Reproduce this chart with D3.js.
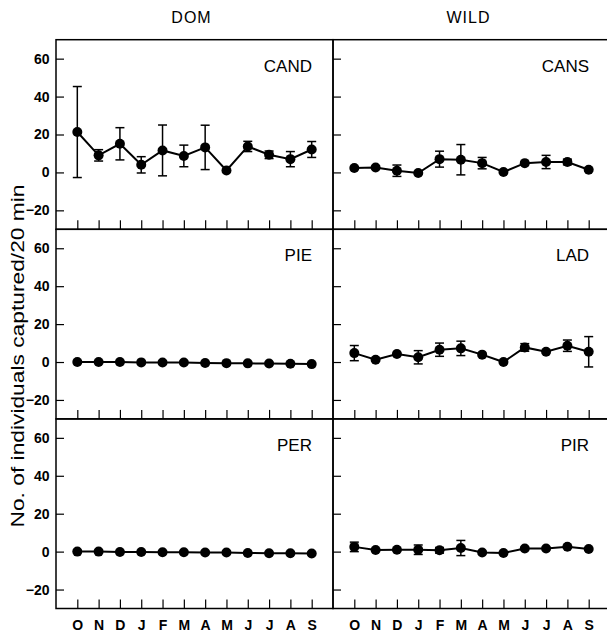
<!DOCTYPE html>
<html>
<head>
<meta charset="utf-8">
<script src="https://cdn.jsdelivr.net/npm/d3@7"></script>
<style>
body { margin: 0; background: #fff; }
svg { font-family: "Liberation Sans", Arial, sans-serif; }
</style>
</head>
<body>
<svg id="chart"></svg>
<script>
// ---------------- data ----------------
let months = ['O','N','D','J','F','M','A','M','J','J','A','S'];
let yTicks = [-20, 0, 20, 40, 60];
let columns = ['DOM', 'WILD'];

let candMean = [21.3, 9, 15.1, 4, 11.6, 8.7, 13.2, 1, 13.7, 9.3, 7, 12.1];
let candErr  = [24, 3, 8.5, 4.3, 13.4, 5.7, 11.7, 0, 2.7, 2, 4, 4.2];

let cansMean = [2.3, 2.6, 0.9, -0.3, 7, 6.7, 4.9, 0.2, 4.9, 5.5, 5.5, 1.4];
let cansErr  = [0, 0, 3, 0, 4.2, 8, 3, 0, 0, 3.5, 1.5, 0];

let pieMean  = [0, 0, 0, -0.2, -0.3, -0.3, -0.5, -0.6, -0.7, -0.8, -0.9, -1.1];
let pieErr   = [0, 0, 0, 0, 0, 0, 0, 0, 0, 0, 0, 0];

let ladMean  = [4.7, 1.2, 4.2, 2.5, 6.5, 7.2, 3.9, 0, 7.7, 5.4, 8.6, 5.4];
let ladErr   = [4, 0, 0, 3.5, 3.5, 3.8, 0, 0, 2, 0, 3, 8];

let perMean  = [0, 0, -0.2, -0.2, -0.3, -0.3, -0.5, -0.5, -0.7, -0.9, -0.9, -1];
let perErr   = [0, 0, 0, 0, 0, 0, 0, 0, 0, 0, 0, 0];

let pirMean  = [2.5, 0.9, 1, 1, 0.7, 1.9, -0.5, -0.7, 1.6, 1.6, 2.6, 1.4];
let pirErr   = [2.5, 0, 0, 2.5, 1.5, 4, 0, 0, 0, 0, 0, 0];

let panels = [
    { name: 'CAND', mean: candMean, err: candErr, col: 0, row: 0 },
    { name: 'CANS', mean: cansMean, err: cansErr, col: 1, row: 0 },
    { name: 'PIE',  mean: pieMean,  err: pieErr,  col: 0, row: 1 },
    { name: 'LAD',  mean: ladMean,  err: ladErr,  col: 1, row: 1 },
    { name: 'PER',  mean: perMean,  err: perErr,  col: 0, row: 2 },
    { name: 'PIR',  mean: pirMean,  err: pirErr,  col: 1, row: 2 }
];

// ---------------- layout ----------------
let svgWidth = 607;
let svgHeight = 636;
let marginLeft = 56;
let marginTop = 39.7;
let panelW = 277;
let panelH = 189.6;

let svg = d3.select('#chart')
    .attr('width', svgWidth)
    .attr('height', svgHeight);

let xScale = d3.scalePoint()
    .domain(d3.range(months.length))
    .range([0, panelW])
    .padding(1);

let yScale = d3.scaleLinear()
    .domain([-30, 70])
    .range([panelH, 0]);

// column titles
svg.selectAll('.col-title')
    .data(columns)
    .enter()
    .append('text')
    .attr('class', 'col-title')
    .attr('x', function(d, i) { return marginLeft + panelW * i + panelW / 2 - 3; })
    .attr('y', 23)
    .attr('text-anchor', 'middle')
    .style('font-size', '16px')
    .style('letter-spacing', '1px')
    .text(function(d) { return d; });

// y axis label
svg.append('text')
    .attr('transform', 'translate(24,356) rotate(-90)')
    .attr('text-anchor', 'middle')
    .attr('textLength', 343)
    .attr('lengthAdjust', 'spacingAndGlyphs')
    .style('font-size', '18px')
    .text('No. of individuals captured/20 min');

let line = d3.line()
    .x(function(d, i) { return xScale(i); })
    .y(function(d) { return yScale(d); });

panels.forEach(function(p) {
    let g = svg.append('g')
        .attr('transform', 'translate(' + (marginLeft + p.col * panelW) + ',' + (marginTop + p.row * panelH) + ')');

    // frame
    g.append('rect')
        .attr('width', panelW)
        .attr('height', panelH)
        .attr('fill', 'none')
        .attr('stroke', '#000')
        .attr('stroke-width', 1.5);

    // y axis (ticks point inward)
    let yAxis = d3.axisLeft(yScale)
        .tickValues(yTicks)
        .tickSizeInner(-8)
        .tickSizeOuter(0)
        .tickPadding(6.5)
        .tickFormat(p.col === 0 ? d3.format('d') : function() { return ''; });

    let ya = g.append('g').call(yAxis);
    ya.select('.domain').remove();
    ya.selectAll('line').attr('stroke-width', 1.2);
    ya.selectAll('text')
        .style('font-size', '14px')
        .style('font-weight', 'bold')
        .style('font-family', '"Liberation Sans", Arial, sans-serif')
        .attr('fill', '#000');

    // x axis (ticks point up)
    let xAxis = d3.axisBottom(xScale)
        .tickSizeInner(-9)
        .tickSizeOuter(0)
        .tickPadding(12)
        .tickFormat(p.row === 2 ? function(i) { return months[i]; } : function() { return ''; });

    let xa = g.append('g')
        .attr('transform', 'translate(0,' + panelH + ')')
        .call(xAxis);
    xa.select('.domain').remove();
    xa.selectAll('line').attr('stroke-width', 1.2);
    xa.selectAll('text')
        .style('font-size', '14px')
        .style('font-weight', 'bold')
        .style('font-family', '"Liberation Sans", Arial, sans-serif')
        .attr('fill', '#000');

    // panel label
    g.append('text')
        .attr('x', panelW - 21)
        .attr('y', 32)
        .attr('text-anchor', 'end')
        .style('font-size', '17px')
        .text(p.name);

    // error bars
    let bars = p.mean.map(function(m, i) { return { i: i, m: m, e: p.err[i] }; })
        .filter(function(d) { return d.e > 0; });

    let eb = g.selectAll('.err')
        .data(bars)
        .enter()
        .append('g')
        .attr('class', 'err')
        .attr('stroke', '#000')
        .attr('stroke-width', 1.5);

    eb.append('line')
        .attr('x1', function(d) { return xScale(d.i); })
        .attr('x2', function(d) { return xScale(d.i); })
        .attr('y1', function(d) { return yScale(d.m + d.e); })
        .attr('y2', function(d) { return yScale(d.m - d.e); });

    eb.append('line')
        .attr('x1', function(d) { return xScale(d.i) - 4.5; })
        .attr('x2', function(d) { return xScale(d.i) + 4.5; })
        .attr('y1', function(d) { return yScale(d.m + d.e); })
        .attr('y2', function(d) { return yScale(d.m + d.e); });

    eb.append('line')
        .attr('x1', function(d) { return xScale(d.i) - 4.5; })
        .attr('x2', function(d) { return xScale(d.i) + 4.5; })
        .attr('y1', function(d) { return yScale(d.m - d.e); })
        .attr('y2', function(d) { return yScale(d.m - d.e); });

    // connecting line
    g.append('path')
        .datum(p.mean)
        .attr('d', line)
        .attr('fill', 'none')
        .attr('stroke', '#000')
        .attr('stroke-width', 2);

    // points
    g.selectAll('circle')
        .data(p.mean)
        .enter()
        .append('circle')
        .attr('cx', function(d, i) { return xScale(i); })
        .attr('cy', function(d) { return yScale(d); })
        .attr('r', 5)
        .attr('fill', '#000');
});
</script>
</body>
</html>
